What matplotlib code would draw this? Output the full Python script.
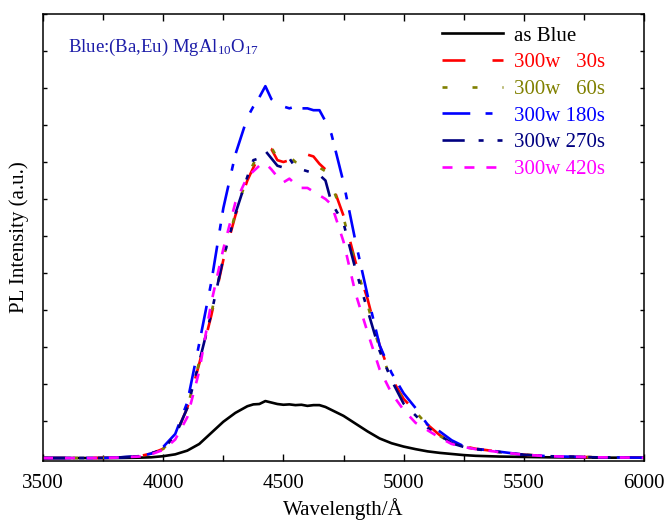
import matplotlib
matplotlib.use("Agg")
import matplotlib.pyplot as plt
from matplotlib.ticker import MultipleLocator

plt.rcParams['font.family'] = ['Liberation Serif', 'DejaVu Serif']
plt.rcParams['mathtext.fontset'] = 'custom'
plt.rcParams['mathtext.rm'] = 'Liberation Serif'
plt.rcParams['mathtext.default'] = 'regular'
plt.rcParams['lines.scale_dashes'] = False

wavelength = [3500, 3600, 3700, 3800, 3900, 3950, 4000, 4050, 4100, 4150, 4200, 4250, 4300,
              4350, 4375, 4400, 4425, 4450, 4475, 4500, 4525, 4550, 4575, 4600, 4625, 4650,
              4675, 4700, 4750, 4800, 4850, 4900, 4950, 5000, 5050, 5100, 5150, 5200, 5250,
              5300, 5400, 5500, 5600, 5800, 6000]

as_blue = [0.0, 0.0, 0.0, 0.0, 0.01, 0.02, 0.05, 0.1, 0.2, 0.38, 0.68, 0.98, 1.22,
           1.4, 1.45, 1.46, 1.54, 1.5, 1.46, 1.44, 1.45, 1.43, 1.44, 1.41, 1.43, 1.43,
           1.38, 1.3, 1.14, 0.93, 0.72, 0.53, 0.4, 0.31, 0.24, 0.18, 0.14, 0.11, 0.08,
           0.06, 0.04, 0.03, 0.02, 0.01, 0.01]

s30 = [0.0, 0.0, 0.0, 0.01, 0.05, 0.12, 0.25, 0.6, 1.35, 2.55, 3.85, 5.35, 6.55,
       7.5, 7.85, 8.15, 8.43, 8.35, 8.05, 8.0, 8.05, 8.0, 7.95, 8.2, 8.15, 7.95,
       7.8, 7.45, 6.55, 5.3, 4.3, 3.05, 2.15, 1.6, 1.25, 0.9, 0.62, 0.42, 0.32,
       0.25, 0.17, 0.09, 0.05, 0.02, 0.01]

s60 = [0.0, 0.0, 0.0, 0.01, 0.05, 0.12, 0.25, 0.6, 1.35, 2.6, 3.9, 5.4, 6.6,
       7.6, 7.95, 8.2, 8.3, 8.4, 8.1, 8.0, 8.15, 8.0, 7.95, 7.9, 7.85, 7.85,
       7.75, 7.4, 6.5, 5.25, 4.15, 2.95, 2.1, 1.55, 1.25, 0.88, 0.6, 0.4, 0.3,
       0.24, 0.16, 0.09, 0.05, 0.02, 0.01]

s180 = [0.0, 0.0, 0.0, 0.01, 0.05, 0.12, 0.3, 0.65, 1.5, 3.1, 4.75, 6.75, 8.2,
        9.2, 9.5, 9.75, 10.05, 9.7, 9.55, 9.5, 9.45, 9.5, 9.45, 9.45, 9.4, 9.4,
        9.1, 8.75, 7.45, 5.85, 4.4, 3.05, 2.3, 1.75, 1.35, 0.9, 0.72, 0.48, 0.32,
        0.25, 0.17, 0.09, 0.05, 0.02, 0.01]

s270 = [0.0, 0.0, 0.0, 0.01, 0.05, 0.12, 0.25, 0.6, 1.35, 2.6, 3.9, 5.4, 6.6,
        7.6, 8.05, 8.1, 8.3, 8.1, 7.9, 7.85, 8.1, 7.85, 7.8, 7.75, 7.7, 7.65,
        7.5, 6.9, 6.35, 5.1, 4.0, 2.9, 2.1, 1.47, 1.15, 0.82, 0.62, 0.4, 0.3,
        0.24, 0.16, 0.09, 0.05, 0.02, 0.01]

s420 = [0.0, 0.0, 0.0, 0.01, 0.04, 0.1, 0.22, 0.5, 1.1, 2.35, 4.2, 5.65, 6.9,
        7.6, 7.75, 7.9, 7.97, 7.8, 7.6, 7.45, 7.55, 7.4, 7.3, 7.3, 7.2, 7.1,
        7.0, 6.85, 5.85, 4.45, 3.4, 2.4, 1.75, 1.3, 0.95, 0.75, 0.55, 0.38, 0.3,
        0.24, 0.16, 0.09, 0.05, 0.02, 0.01]

labels = ["as Blue", "300w   30s", "300w   60s", "300w 180s", "300w 270s", "300w 420s"]
colors = ["#000000", "#ff0000", "#808000", "#0000ff", "#000080", "#ff00ff"]
styles = ["-",
          (0, (16.5, 19.5)),
          (0, (3.6, 18)),
          (0, (20, 11, 5, 8)),
          (0, (16, 10, 3.6, 10, 3.6, 10)),
          (0, (7.2, 8.6))]
series = [as_blue, s30, s60, s180, s270, s420]

fig = plt.figure(figsize=(6.69, 5.28), dpi=100)
ax = fig.add_axes([43/669, 1-461/528, 601/669, 447/528])

for y, lab, c, ls in zip(series, labels, colors, styles):
    ax.plot(wavelength, y, color=c, linestyle=ls, lw=1.9, label=lab)

ax.set_xlim(3500, 6000)
ax.set_ylim(-0.08, 12.0)
ax.xaxis.set_major_locator(MultipleLocator(500))
ax.xaxis.set_minor_locator(MultipleLocator(250))
ax.yaxis.set_major_locator(MultipleLocator(1))
ax.tick_params(axis='x', which='major', direction='in', length=5, width=1, top=True,
               labelsize=15, pad=9)
ax.tick_params(axis='x', which='minor', direction='in', length=4, width=1, top=True)
ax.tick_params(axis='y', which='major', direction='in', length=3, width=1, right=True,
               labelleft=False)
for s in ax.spines.values():
    s.set_linewidth(1.1)

ax.set_xlabel("Wavelength/Å", fontsize=15, labelpad=4)
ax.set_ylabel("PL Intensity (a.u.)", fontsize=15, labelpad=10)

fig.text(68/669, 1 - 52/528, "Blue:(Ba,Eu) MgAl$_{10}$O$_{17}$", fontsize=13.5,
         color="#1c1ca8", va='baseline', ha='left')

leg = ax.legend(loc='upper left', bbox_to_anchor=((442-43)/601, (461-26)/447),
                frameon=False, fontsize=15, handlelength=2.95, handletextpad=0.5,
                labelspacing=0.34, borderpad=0, borderaxespad=0)
for t, c in zip(leg.get_texts(), colors):
    t.set_color(c)

fig.savefig("out.png", dpi=100)
